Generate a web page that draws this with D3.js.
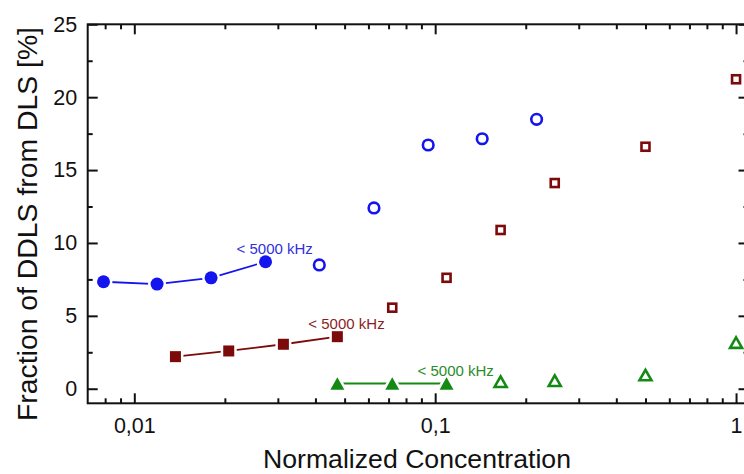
<!DOCTYPE html>
<html>
<head>
<meta charset="utf-8">
<script src="https://cdn.jsdelivr.net/npm/d3@7"></script>
<style>
  html, body { margin: 0; padding: 0; background: #fff; overflow: hidden; }
  svg { display: block; font-family: "Liberation Sans", Arial, sans-serif; }
</style>
</head>
<body>
<svg id="chart" width="744" height="474"></svg>
<script>
// Normalized concentration vs. fraction of DDLS from DLS [%]

// Blue series (circles): filled = below 5000 kHz, open = above
const blueFilledX = [0.0079, 0.0119, 0.0180, 0.0273];
const blueFilledY = [7.34, 7.18, 7.61, 8.71];
const blueOpenX   = [0.0412, 0.0626, 0.0948, 0.1433, 0.2173];
const blueOpenY   = [8.49, 12.40, 16.72, 17.15, 18.48];

// Wine series (squares)
const redFilledX = [0.0137, 0.0206, 0.0313, 0.0473];
const redFilledY = [2.20, 2.59, 3.05, 3.57];
const redOpenX   = [0.0720, 0.1091, 0.1650, 0.2497, 0.5, 1.0];
const redOpenY   = [5.56, 7.61, 10.89, 14.11, 16.60, 21.23];

// Green series (triangles)
const greenFilledX = [0.0473, 0.0720, 0.1091];
const greenFilledY = [0.36, 0.36, 0.36];
const greenOpenX   = [0.1650, 0.2497, 0.5, 1.0];
const greenOpenY   = [0.48, 0.55, 0.94, 3.16];

const xMajorTicks = [0.01, 0.1, 1];
const yMajorTicks = [0, 5, 10, 15, 20, 25];
const yMinorTicks = [2.5, 7.5, 12.5, 17.5, 22.5];
const freqLabel = "< 5000 kHz";

const zip = (xs, ys) => xs.map((x, i) => ({x, y: ys[i]}));

const svg = d3.select("#chart");
const plotLeft = 87.7, plotRight = 748.5, plotTop = 24.3, plotBottom = 403.3;

const x = d3.scaleLog().domain([0.007, 1.1]).range([plotLeft, plotRight]);
const y = d3.scaleLinear().domain([-1, 25]).range([plotBottom, plotTop]);

const locale = d3.formatLocale({decimal: ",", thousands: ".", grouping: [3], currency: ["", ""]});
const fmtX = locale.format("~g");

// minor log ticks (2..9 of each decade) inside the domain
const xMinorTicks = [];
for (let e = -3; e <= 0; e++) {
  for (let m = 2; m <= 9; m++) {
    const v = m * Math.pow(10, e);
    if (v > 0.007 && v < 1.1) xMinorTicks.push(v);
  }
}

function styleAxis(g) {
  g.select(".domain").remove();
  g.selectAll(".tick line").attr("stroke", "#111").attr("stroke-width", 2);
  g.selectAll(".tick text").attr("fill", "#111").attr("font-size", 21.5)
    .attr("font-family", "Liberation Sans, Arial, sans-serif");
}

// bottom axis
svg.append("g").attr("transform", `translate(0,${plotBottom})`)
  .call(d3.axisBottom(x).tickValues(xMajorTicks).tickFormat(fmtX).tickSizeInner(-10).tickSizeOuter(0).tickPadding(14.5))
  .call(styleAxis);
svg.append("g").attr("transform", `translate(0,${plotBottom})`)
  .call(d3.axisBottom(x).tickValues(xMinorTicks).tickFormat("").tickSizeInner(-5).tickSizeOuter(0))
  .call(styleAxis);
// top axis
svg.append("g").attr("transform", `translate(0,${plotTop})`)
  .call(d3.axisTop(x).tickValues(xMajorTicks).tickFormat("").tickSizeInner(-10).tickSizeOuter(0))
  .call(styleAxis);
svg.append("g").attr("transform", `translate(0,${plotTop})`)
  .call(d3.axisTop(x).tickValues(xMinorTicks).tickFormat("").tickSizeInner(-5).tickSizeOuter(0))
  .call(styleAxis);
// left axis
svg.append("g").attr("transform", `translate(${plotLeft},0)`)
  .call(d3.axisLeft(y).tickValues(yMajorTicks).tickSizeInner(-10).tickSizeOuter(0).tickPadding(10.5))
  .call(styleAxis);
svg.append("g").attr("transform", `translate(${plotLeft},0)`)
  .call(d3.axisLeft(y).tickValues(yMinorTicks).tickFormat("").tickSizeInner(-5).tickSizeOuter(0))
  .call(styleAxis);
// right axis
svg.append("g").attr("transform", `translate(${plotRight},0)`)
  .call(d3.axisRight(y).tickValues(yMajorTicks).tickFormat("").tickSizeInner(-10).tickSizeOuter(0))
  .call(styleAxis);
svg.append("g").attr("transform", `translate(${plotRight},0)`)
  .call(d3.axisRight(y).tickValues(yMinorTicks).tickFormat("").tickSizeInner(-5).tickSizeOuter(0))
  .call(styleAxis);

// frame
svg.append("rect")
  .attr("x", plotLeft).attr("y", plotTop)
  .attr("width", plotRight - plotLeft).attr("height", plotBottom - plotTop)
  .attr("fill", "none").attr("stroke", "#111").attr("stroke-width", 2);

// axis titles
svg.append("text")
  .attr("x", 417).attr("y", 468)
  .attr("text-anchor", "middle").attr("font-size", 26).attr("fill", "#111")
  .attr("textLength", 308).attr("lengthAdjust", "spacingAndGlyphs")
  .text("Normalized Concentration");
svg.append("text")
  .attr("transform", "translate(37,224) rotate(-90)")
  .attr("text-anchor", "middle").attr("font-size", 27).attr("fill", "#111")
  .attr("textLength", 394).attr("lengthAdjust", "spacingAndGlyphs")
  .text("Fraction of DDLS from DLS [%]");

const line = d3.line().x(d => x(d.x)).y(d => y(d.y));

const tri = (w, h) => `M0,${-h / 2}L${w / 2},${h / 2}L${-w / 2},${h / 2}Z`;

function series(cfg) {
  const g = svg.append("g");
  const filled = zip(cfg.fx, cfg.fy);
  const open = zip(cfg.ox, cfg.oy);

  g.append("path").datum(filled)
    .attr("d", line).attr("fill", "none")
    .attr("stroke", cfg.color).attr("stroke-width", 1.8);

  const drawMarker = (sel, isOpen) => {
    if (cfg.shape === "circle") {
      sel.append("circle").attr("r", isOpen ? 5.3 : 6.5);
    } else if (cfg.shape === "square") {
      const s = isOpen ? 8 : 11;
      sel.append("rect").attr("x", -s / 2).attr("y", -s / 2).attr("width", s).attr("height", s);
    } else {
      sel.append("path").attr("d", isOpen ? tri(12, 10.5) : tri(14, 12.5));
    }
  };

  // filled markers with a white halo so the joining line stops short of them
  g.selectAll(".f").data(filled).join("g")
    .attr("transform", d => `translate(${x(d.x)},${y(d.y)})`)
    .call(s => drawMarker(s, false))
    .selectAll("*")
    .attr("fill", cfg.color).attr("stroke", "#fff").attr("stroke-width", 5)
    .attr("paint-order", "stroke");

  g.selectAll(".o").data(open).join("g")
    .attr("transform", d => `translate(${x(d.x)},${y(d.y)})`)
    .call(s => drawMarker(s, true))
    .selectAll("*")
    .attr("fill", "#fff").attr("stroke", cfg.color).attr("stroke-width", 2.6)
    .attr("stroke-linejoin", "miter");

  const last = filled[filled.length - 1];
  g.append("text")
    .attr("x", x(last.x) - 29).attr("y", y(last.y) - 7.5)
    .attr("font-size", 15).attr("fill", cfg.labelColor)
    .text(freqLabel);
}

series({shape: "circle", color: "#1414ee", labelColor: "#3030dd",
  fx: blueFilledX, fy: blueFilledY, ox: blueOpenX, oy: blueOpenY});
series({shape: "square", color: "#7d0a0a", labelColor: "#8a1e1e",
  fx: redFilledX, fy: redFilledY, ox: redOpenX, oy: redOpenY});
series({shape: "triangle", color: "#148a14", labelColor: "#2a8c2a",
  fx: greenFilledX, fy: greenFilledY, ox: greenOpenX, oy: greenOpenY});
</script>
</body>
</html>
